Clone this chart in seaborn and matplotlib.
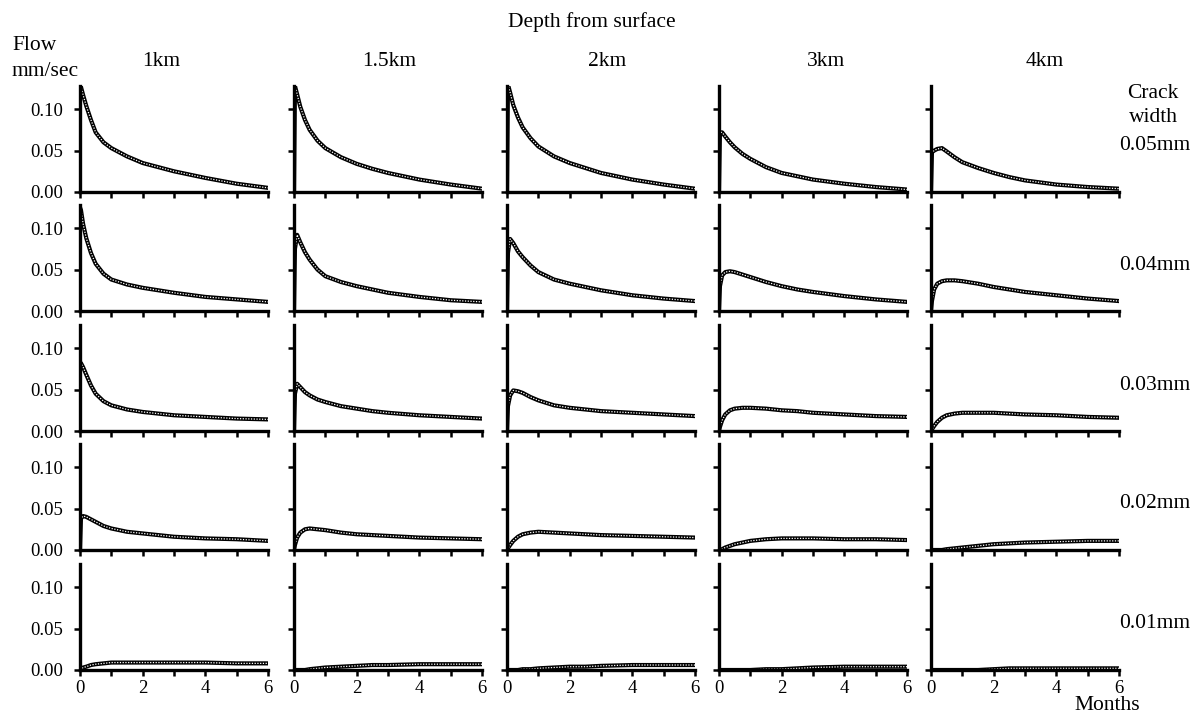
import matplotlib
matplotlib.use("Agg")
import matplotlib.pyplot as plt
import seaborn as sns
import pandas as pd

# ---------------- data ----------------
depths = ["1km", "1.5km", "2km", "3km", "4km"]
widths = ["0.05mm", "0.04mm", "0.03mm", "0.02mm", "0.01mm"]
months = [0, 0.03, 0.1, 0.2, 0.35, 0.5, 0.75, 1, 1.5, 2, 2.5, 3, 4, 5, 6]
y_ticks = [0.00, 0.05, 0.10]
x_ticks = [0, 1, 2, 3, 4, 5, 6]
x_ticklabels = ["0", "", "2", "", "4", "", "6"]

# crack width 0.05 mm
flow_w05_1km = [0.128, 0.127, 0.117, 0.104, 0.087, 0.072, 0.060, 0.053, 0.043, 0.035, 0.030, 0.025, 0.017, 0.010, 0.005]
flow_w05_15km = [0.0, 0.128, 0.118, 0.103, 0.087, 0.075, 0.062, 0.053, 0.042, 0.034, 0.028, 0.023, 0.015, 0.009, 0.004]
flow_w05_2km = [0.0, 0.130, 0.120, 0.105, 0.090, 0.078, 0.065, 0.055, 0.043, 0.035, 0.029, 0.023, 0.015, 0.009, 0.004]
flow_w05_3km = [0.0, 0.072, 0.072, 0.067, 0.060, 0.054, 0.046, 0.040, 0.030, 0.023, 0.019, 0.015, 0.010, 0.006, 0.003]
flow_w05_4km = [0.0, 0.048, 0.050, 0.052, 0.053, 0.049, 0.042, 0.036, 0.029, 0.023, 0.018, 0.014, 0.009, 0.006, 0.004]
# crack width 0.04 mm
flow_w04_1km = [0.125, 0.122, 0.105, 0.088, 0.070, 0.057, 0.045, 0.038, 0.032, 0.028, 0.025, 0.022, 0.017, 0.014, 0.011]
flow_w04_15km = [0.0, 0.075, 0.092, 0.083, 0.071, 0.062, 0.050, 0.042, 0.035, 0.030, 0.026, 0.022, 0.017, 0.013, 0.011]
flow_w04_2km = [0.0, 0.070, 0.087, 0.082, 0.072, 0.065, 0.055, 0.047, 0.038, 0.033, 0.029, 0.025, 0.019, 0.015, 0.012]
flow_w04_3km = [0.0, 0.030, 0.043, 0.047, 0.048, 0.047, 0.044, 0.041, 0.035, 0.030, 0.026, 0.023, 0.018, 0.014, 0.011]
flow_w04_4km = [0.0, 0.012, 0.026, 0.033, 0.036, 0.037, 0.037, 0.036, 0.033, 0.029, 0.026, 0.023, 0.019, 0.015, 0.012]
# crack width 0.03 mm
flow_w03_1km = [0.082, 0.082, 0.077, 0.068, 0.055, 0.045, 0.036, 0.031, 0.026, 0.023, 0.021, 0.019, 0.017, 0.015, 0.014]
flow_w03_15km = [0.0, 0.045, 0.057, 0.053, 0.047, 0.043, 0.038, 0.035, 0.030, 0.027, 0.024, 0.022, 0.019, 0.017, 0.015]
flow_w03_2km = [0.0, 0.030, 0.043, 0.049, 0.048, 0.046, 0.041, 0.037, 0.031, 0.028, 0.026, 0.024, 0.022, 0.020, 0.018]
flow_w03_3km = [0.0, 0.005, 0.013, 0.020, 0.025, 0.027, 0.028, 0.028, 0.027, 0.025, 0.024, 0.022, 0.020, 0.018, 0.017]
flow_w03_4km = [0.0, 0.002, 0.006, 0.011, 0.016, 0.019, 0.021, 0.022, 0.022, 0.022, 0.021, 0.020, 0.019, 0.017, 0.016]
# crack width 0.02 mm
flow_w02_1km = [0.0, 0.038, 0.041, 0.040, 0.037, 0.034, 0.029, 0.026, 0.022, 0.020, 0.018, 0.016, 0.014, 0.013, 0.011]
flow_w02_15km = [0.0, 0.006, 0.015, 0.021, 0.025, 0.026, 0.025, 0.024, 0.021, 0.019, 0.018, 0.017, 0.015, 0.014, 0.013]
flow_w02_2km = [0.0, 0.002, 0.006, 0.011, 0.016, 0.019, 0.021, 0.022, 0.021, 0.020, 0.019, 0.018, 0.017, 0.016, 0.015]
flow_w02_3km = [0.0, 0.0, 0.001, 0.003, 0.005, 0.007, 0.009, 0.011, 0.013, 0.014, 0.014, 0.014, 0.013, 0.013, 0.012]
flow_w02_4km = [0.0, 0.0, 0.0, 0.0, 0.0, 0.001, 0.002, 0.003, 0.005, 0.007, 0.008, 0.009, 0.010, 0.011, 0.011]
# crack width 0.01 mm
flow_w01_1km = [0.0, 0.001, 0.003, 0.004, 0.006, 0.007, 0.008, 0.009, 0.009, 0.009, 0.009, 0.009, 0.009, 0.008, 0.008]
flow_w01_15km = [0.0, 0.0, 0.0, 0.0, 0.0, 0.001, 0.002, 0.003, 0.004, 0.005, 0.006, 0.006, 0.007, 0.007, 0.007]
flow_w01_2km = [0.0, 0.0, 0.0, 0.0, 0.0, 0.001, 0.001, 0.002, 0.003, 0.004, 0.004, 0.005, 0.006, 0.006, 0.006]
flow_w01_3km = [0.0, 0.0, 0.0, 0.0, 0.0, 0.0, 0.0, 0.0, 0.001, 0.001, 0.002, 0.003, 0.004, 0.004, 0.004]
flow_w01_4km = [0.0, 0.0, 0.0, 0.0, 0.0, 0.0, 0.0, 0.0, 0.0, 0.001, 0.002, 0.002, 0.002, 0.002, 0.002]

grid = [
    [flow_w05_1km, flow_w05_15km, flow_w05_2km, flow_w05_3km, flow_w05_4km],
    [flow_w04_1km, flow_w04_15km, flow_w04_2km, flow_w04_3km, flow_w04_4km],
    [flow_w03_1km, flow_w03_15km, flow_w03_2km, flow_w03_3km, flow_w03_4km],
    [flow_w02_1km, flow_w02_15km, flow_w02_2km, flow_w02_3km, flow_w02_4km],
    [flow_w01_1km, flow_w01_15km, flow_w01_2km, flow_w01_3km, flow_w01_4km],
]

# ---------------- style ----------------
sns.set_style("ticks")
plt.rcParams["font.family"] = ["Liberation Serif", "DejaVu Serif"]
plt.rcParams["text.color"] = "black"
plt.rcParams["axes.edgecolor"] = "black"
plt.rcParams["xtick.color"] = "black"
plt.rcParams["ytick.color"] = "black"
plt.rcParams["xtick.labelcolor"] = "black"
plt.rcParams["ytick.labelcolor"] = "black"

W, H = 1200, 714
fig = plt.figure(figsize=(W / 100, H / 100), dpi=100)

col_left = [80, 294, 507, 719, 931]
row_bottom = [192, 311, 431, 550, 670]
ax_w, ax_h = 188, 106

for r, wlab in enumerate(widths):
    for c, dlab in enumerate(depths):
        ax = fig.add_axes([col_left[c] / W, 1 - row_bottom[r] / H, ax_w / W, ax_h / H])
        df = pd.DataFrame({"month": months, "flow": grid[r][c]})
        sns.lineplot(data=df, x="month", y="flow", ax=ax, color="black",
                     lw=3.0, estimator=None, sort=False)
        ax.plot(df["month"], df["flow"], color="white", lw=0.9,
                ls=(0, (1.0, 1.2)))
        ax.set_xlim(0, 6)
        ax.set_ylim(0, 0.128)
        ax.set_xlabel("")
        ax.set_ylabel("")
        sns.despine(ax=ax)
        for s in ("left", "bottom"):
            ax.spines[s].set_linewidth(2.4)
            ax.spines[s].set_color("black")
        ax.set_yticks(y_ticks)
        ax.set_xticks(x_ticks)
        ax.tick_params(axis="y", direction="out", length=4, width=1.8,
                       labelsize=13.5, pad=8, colors="black")
        ax.tick_params(axis="x", direction="out", length=4, width=1.8,
                       labelsize=13.5, pad=3, colors="black")
        if c == 0:
            ax.set_yticklabels([f"{v:.2f}" for v in y_ticks])
        else:
            ax.set_yticklabels([])
        if r == len(widths) - 1:
            ax.set_xticklabels(x_ticklabels)
        else:
            ax.set_xticklabels([])

# ---------------- texts ----------------
title_fs = 15.5
fig.text(592 / W, 1 - 22 / H, "Depth from surface", ha="center", va="center", fontsize=title_fs)
depth_x = [161, 389, 607, 826, 1045]
for dx, lab in zip(depth_x, depths):
    fig.text(dx / W, 1 - 61 / H, lab, ha="center", va="center", fontsize=title_fs)

fig.text(12 / W, 1 - 46 / H, "Flow", ha="left", va="center", fontsize=title_fs)
fig.text(12 / W, 1 - 72 / H, "mm/sec", ha="left", va="center", fontsize=title_fs)

fig.text(1153 / W, 1 - 93 / H, "Crack", ha="center", va="center", fontsize=title_fs)
fig.text(1153 / W, 1 - 117 / H, "width", ha="center", va="center", fontsize=title_fs)
for r, wlab in enumerate(widths):
    ycen = row_bottom[r] - 46
    fig.text(1155 / W, 1 - ycen / H, wlab, ha="center", va="center", fontsize=title_fs)

fig.text(1140 / W, 1 - 706 / H, "Months", ha="right", va="center", fontsize=title_fs)

fig.savefig("out.png", dpi=100, facecolor="white")
